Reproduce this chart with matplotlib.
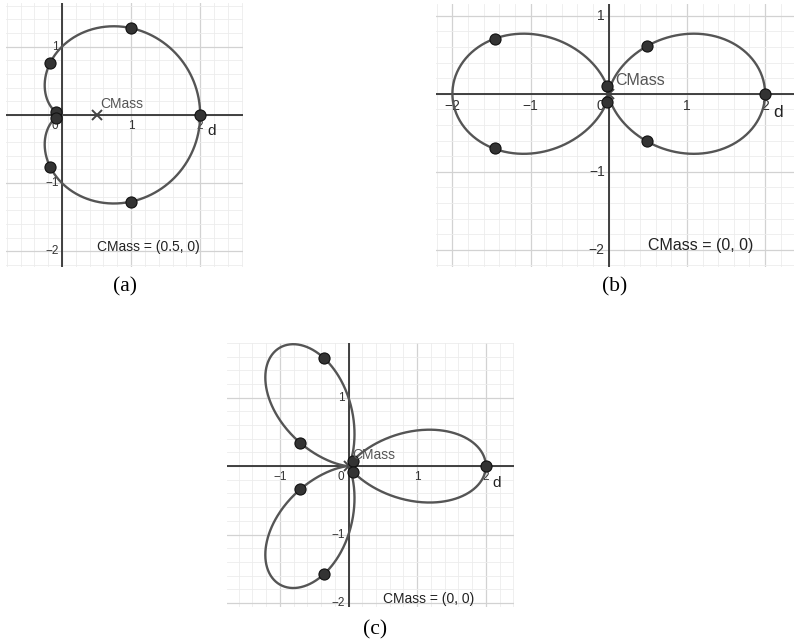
import numpy as np
import matplotlib
matplotlib.use("Agg")
import matplotlib.pyplot as plt
from matplotlib.ticker import MultipleLocator

# polar curves r = 1 + cos(n*theta), one per panel
panel_names = ["(a)", "(b)", "(c)"]
petals = [1, 2, 3]
cmass_text = ["CMass = (0.5, 0)", "CMass = (0, 0)", "CMass = (0, 0)"]
cmass_xy = [(0.5, 0.0), (0.0, 0.0), (0.0, 0.0)]

# sample points
pts_a_x = [2.0, 1.0, -0.17, -0.09, -0.09, -0.17, 1.0]
pts_a_y = [0.0, 1.27, 0.76, 0.04, -0.04, -0.76, -1.27]
pts_b_x = [2.0, 0.49, -0.02, -1.46, -1.46, -0.02, 0.49]
pts_b_y = [0.0, 0.61, 0.10, 0.70, -0.70, -0.10, -0.61]
pts_c_x = [2.0, 0.06, -0.36, -0.70, -0.70, -0.36, 0.06]
pts_c_y = [0.0, 0.08, 1.58, 0.34, -0.34, -1.58, -0.08]
points = [(pts_a_x, pts_a_y), (pts_b_x, pts_b_y), (pts_c_x, pts_c_y)]

# tick labels shown on each panel
xticks = [[1, 2], [-2, -1, 1, 2], [-1, 1, 2]]
yticks = [[1, -1, -2], [1, -1, -2], [1, -1, -2]]

# axes boxes in pixels (left, top, right, bottom) and view windows
boxes = [(6, 3, 243, 267), (436, 4, 794, 267), (227, 343, 514, 607)]
xlims = [(-0.81, 2.62), (-2.21, 2.37), (-1.77, 2.41)]
ylims = [(-2.23, 1.64), (-2.22, 1.15), (-2.06, 1.80)]
fsize = [10, 11.5, 10]
cm_label = [(0.55, 0.10), (0.08, 0.11), (0.05, 0.10)]
letter_pos = [(125, 287), (615, 287), (375, 630)]

W, H = 794, 643
fig = plt.figure(figsize=(W / 100, H / 100), dpi=100)
sans = "Liberation Sans"

for i in range(3):
    l, t, r, b = boxes[i]
    ax = fig.add_axes([l / W, 1 - b / H, (r - l) / W, (b - t) / H])
    ax.set_xlim(*xlims[i])
    ax.set_ylim(*ylims[i])
    ax.xaxis.set_major_locator(MultipleLocator(1))
    ax.yaxis.set_major_locator(MultipleLocator(1))
    ax.xaxis.set_minor_locator(MultipleLocator(0.2))
    ax.yaxis.set_minor_locator(MultipleLocator(0.2))
    ax.grid(which="major", color="#d2d2d2", lw=0.9)
    ax.grid(which="minor", color="#ececec", lw=0.6)
    ax.tick_params(which="both", length=0, labelbottom=False, labelleft=False)
    for s in ax.spines.values():
        s.set_visible(False)
    ax.set_axisbelow(True)

    ax.axhline(0, color="#333333", lw=1.3, zorder=1)
    ax.axvline(0, color="#333333", lw=1.3, zorder=1)

    fs = fsize[i] - 1.5
    for xv in xticks[i]:
        ax.text(xv, -0.07, "\u2212%d" % -xv if xv < 0 else str(xv), ha="center", va="top",
                fontsize=fs, family=sans, color="#333333")
    for yv in yticks[i]:
        ax.text(-0.05, yv, "\u2212%d" % -yv if yv < 0 else str(yv), ha="right", va="center",
                fontsize=fs, family=sans, color="#333333")
    ax.text(-0.06, -0.07, "0", ha="right", va="top", fontsize=fs, family=sans, color="#333333")

    n = petals[i]
    th = np.linspace(0, 2 * np.pi, 1000)
    rr = 1 + np.cos(n * th)
    ax.plot(rr * np.cos(th), rr * np.sin(th), color="#555555", lw=1.7, zorder=3)

    px, py = points[i]
    ax.plot(px, py, "o", ms=8, mfc="#333333", mec="#111111", mew=0.8, zorder=4)

    cx, cy = cmass_xy[i]
    ax.plot(cx, cy, "x", ms=7, mew=1.4, color="#444444", zorder=3)
    ax.text(cm_label[i][0], cm_label[i][1], "CMass", fontsize=fsize[i], family=sans,
            color="#555555", va="baseline", zorder=5)
    ax.text(0.5, -2.0, cmass_text[i], fontsize=fsize[i], family=sans,
            color="#222222", va="baseline", zorder=5)
    ax.text(2.1, -0.30, "d", fontsize=fsize[i] + 1, family=sans, color="#222222",
            va="baseline", zorder=5)

for name, (lx, ly) in zip(panel_names, letter_pos):
    fig.text(lx / W, 1 - ly / H, name, ha="center", va="center", fontsize=15.5,
             family="Liberation Serif", color="black")

fig.savefig("out.png", dpi=100)
